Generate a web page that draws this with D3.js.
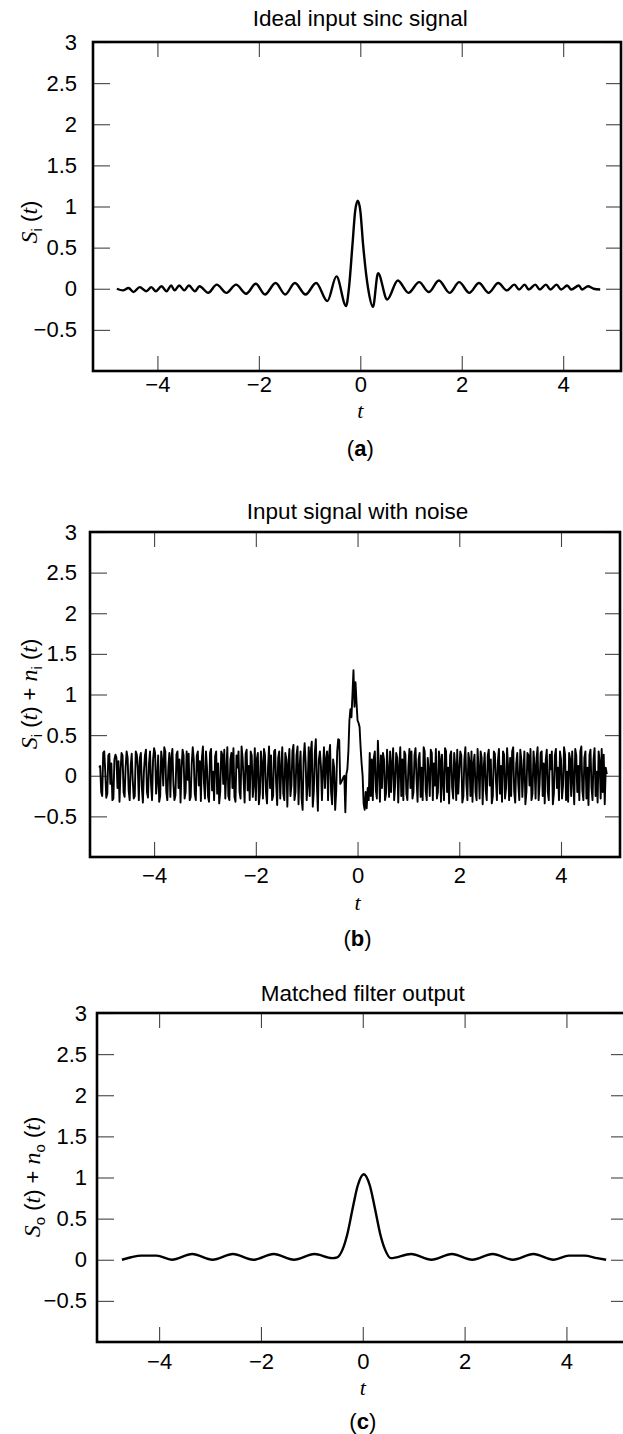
<!DOCTYPE html>
<html><head><meta charset="utf-8">
<script src="https://cdn.jsdelivr.net/npm/d3@7"></script>
<style>body{margin:0;background:#fff} svg{display:block}</style>
</head><body>
<svg id="chart" width="623" height="1434"></svg>
<script>
// ---------- data ----------
const xTicks = [-4, -2, 0, 2, 4];
const xTickLabels = ["−4", "−2", "0", "2", "4"];
const yTicks = [3, 2.5, 2, 1.5, 1, 0.5, 0, -0.5];
const yTickLabels = ["3", "2.5", "2", "1.5", "1", "0.5", "0", "−0.5"];
const titles = ["Ideal input sinc signal", "Input signal with noise", "Matched filter output"];
const panelLetters = ["a", "b", "c"];
const xDomains = [[-5.27, 5.14], [-5.26, 5.16], [-5.22, 5.17]];
const yDomain = [-1, 3];

// (a) ideal sinc signal
const tA = [-4.80,-4.68,-4.57,-4.47,-4.35,-4.22,-4.12,-4.03,-3.92,-3.82,
  -3.73,-3.66,-3.57,-3.47,-3.38,-3.26,-3.17,-3.00,-2.83,-2.64,
  -2.45,-2.25,-2.06,-1.88,-1.67,-1.48,-1.29,-1.08,-0.87,-0.65,
  -0.47,-0.28,-0.225,-0.155,-0.10,-0.05,0.00,0.056,0.155,0.25,
  0.35,0.53,0.74,0.95,1.16,1.35,1.55,1.76,1.95,2.15,
  2.34,2.53,2.72,2.89,3.04,3.13,3.24,3.32,3.45,3.54,
  3.66,3.75,3.87,3.96,4.08,4.16,4.31,4.37,4.49,4.60,
  4.73];
const sA = [0,-0.02,0.01,-0.04,0.02,-0.03,0.02,-0.03,0.03,-0.03,
  0.04,-0.02,0.04,-0.02,0.04,-0.03,0.03,-0.05,0.05,-0.05,
  0.05,-0.06,0.06,-0.07,0.07,-0.07,0.07,-0.07,0.07,-0.15,
  0.15,-0.21,0,0.53,0.95,1.07,0.95,0.53,0,-0.22,
  0.19,-0.13,0.10,-0.05,0.08,-0.04,0.10,-0.05,0.08,-0.05,
  0.07,-0.05,0.07,-0.02,0.05,-0.01,0.05,-0.01,0.05,-0.01,
  0.05,-0.01,0.05,-0.01,0.04,-0.01,0.04,-0.01,0.03,0,
  -0.01];

// (b) noisy input, sampled every 0.02 starting at t = -5.08
const tStartB = -5.08, tStepB = 0.02;
const sB = [
  0.1,0.12,-0.2,-0.25,0.28,0.3,0.05,-0.27,-0.22,0.25,0.27,-0.1,0.15,-0.3,-0.28,0.2,
  0.26,0.22,-0.15,0.18,-0.32,0.05,0.28,0.25,-0.2,-0.26,0.1,0.3,0.22,-0.18,-0.3,0.12,
  0.27,-0.05,-0.28,-0.25,0.3,0.26,0.1,-0.3,0.22,0.28,-0.15,-0.33,0.05,0.25,0.32,-0.2,
  -0.27,0.15,0.3,-0.1,-0.3,0.2,0.34,0.28,-0.22,-0.05,0.25,-0.32,-0.25,0.3,0.18,-0.12,
  0.35,0.3,-0.2,-0.3,0.1,0.28,-0.26,0.22,0.33,-0.1,-0.3,-0.24,0.26,0.3,-0.15,0.2,
  -0.33,0.08,0.32,0.25,-0.28,-0.2,0.3,-0.05,0.27,-0.3,-0.26,0.15,0.35,0.2,-0.22,-0.3,
  0.25,0.3,-0.12,0.18,-0.31,0.22,0.36,-0.08,-0.28,0.3,0.1,-0.25,-0.32,0.28,0.33,-0.18,
  0.05,-0.3,0.24,0.3,-0.22,0.15,-0.34,-0.2,0.3,0.26,-0.1,0.32,-0.28,0.06,0.35,-0.25,
  -0.3,0.2,0.28,-0.15,0.34,-0.26,-0.32,0.25,0.1,0.3,-0.2,-0.28,0.36,0.22,-0.05,-0.33,
  0.27,0.32,-0.18,0.12,-0.3,0.3,0.25,-0.26,-0.1,0.34,-0.3,0.2,0.28,-0.35,-0.22,0.3,
  0.15,-0.28,0.33,0.26,-0.2,-0.34,0.1,0.36,-0.15,0.25,-0.3,-0.25,0.3,0.32,-0.1,-0.36,
  0.22,0.3,-0.28,0.08,0.35,-0.22,-0.3,0.28,0.2,-0.38,0.14,0.33,-0.25,-0.12,0.3,0.38,
  -0.3,-0.2,0.25,0.36,-0.35,0.1,0.3,-0.28,-0.42,0.22,0.4,0.15,-0.3,-0.1,0.35,-0.25,
  0.3,0.42,-0.38,-0.2,0.28,0.45,-0.1,-0.43,0.2,0.3,0.12,-0.3,0.05,0.35,-0.15,0.2,
  // pulse region
  0.3,-0.3,0.25,0.38,-0.2,-0.35,0.2,0.1,-0.42,-0.2,0.3,0.45,0.44,-0.1,-0.08,
  -0.05,-0.02,0.0,-0.45,0.02,0.08,0.3,0.68,0.82,0.72,1.0,1.3,0.85,1.15,0.9,
  0.68,0.65,0.6,0.35,0.15,0.0,-0.35,-0.42,-0.2,-0.4,-0.15,-0.3,0.28,-0.25,0.2,
  // noise after pulse
  -0.3,0.22,0.3,-0.18,-0.28,0.43,0.1,-0.32,0.25,-0.15,0.28,0.2,-0.3,-0.22,0.32,0.05,
  -0.26,0.3,-0.2,0.15,0.34,-0.3,-0.1,0.28,0.22,-0.33,0.1,0.35,-0.25,0.2,-0.3,0.3,
  0.26,-0.22,-0.3,0.12,0.33,-0.15,0.3,-0.28,-0.2,0.25,0.34,-0.05,-0.32,0.2,0.28,-0.26,
  0.1,-0.3,0.35,0.3,-0.18,-0.3,0.22,0.05,-0.25,0.32,0.28,-0.3,0.15,-0.12,0.33,-0.28,
  -0.2,0.3,0.2,-0.32,0.26,-0.08,-0.3,0.34,0.3,-0.2,0.1,-0.34,0.25,0.3,-0.15,-0.28,
  0.28,0.12,-0.3,0.32,-0.22,0.05,0.3,0.25,-0.33,-0.26,0.2,0.35,-0.1,-0.3,0.28,0.18,
  -0.25,0.3,-0.32,0.15,0.26,-0.2,-0.3,0.33,0.08,-0.28,0.3,0.22,-0.35,0.1,0.28,-0.18,
  -0.3,0.25,0.32,-0.12,0.2,-0.34,-0.25,0.3,0.27,-0.05,-0.3,0.18,0.33,-0.22,0.12,-0.32,
  0.3,0.26,-0.28,-0.15,0.34,0.1,-0.3,0.22,-0.25,0.3,0.35,-0.2,-0.33,0.15,0.28,-0.1,
  -0.3,0.32,0.2,-0.26,0.05,0.3,-0.35,-0.2,0.28,0.25,-0.12,0.33,-0.3,-0.22,0.3,0.12,
  -0.28,0.22,0.35,-0.3,-0.1,0.28,0.3,-0.25,0.15,-0.34,0.2,0.32,-0.2,-0.3,0.26,0.08,
  0.3,-0.35,-0.22,0.25,0.33,-0.15,0.1,-0.3,0.3,0.2,-0.28,-0.12,0.35,0.26,-0.3,0.05,
  -0.32,0.28,0.2,-0.25,0.3,-0.05,-0.35,0.33,0.25,-0.2,0.12,-0.3,0.3,0.36,-0.18,-0.3,
  0.22,0.3,-0.28,0.1,-0.36,0.26,0.32,-0.15,-0.3,0.2,0.34,-0.25,0.05,-0.33,0.3,0.18,
  -0.28,0.33,-0.2,0.26,-0.35,0.1,0.02];

// (c) matched filter output
const tC = [-4.73,-4.55,-4.35,-4.05,-3.75,-3.35,-2.95,-2.55,-2.15,-1.75,-1.35,-0.95,-0.6,
  -0.5,-0.4,-0.3,-0.2,-0.1,0.02,0.14,0.24,0.34,0.44,0.55,
  0.95,1.35,1.75,2.15,2.55,2.95,3.35,3.75,4.05,4.35,4.6,4.78];
const sC = [0.0,0.03,0.05,0.05,0.0,0.07,0.0,0.07,0.0,0.07,0.0,0.07,0.02,
  0.03,0.12,0.32,0.62,0.9,1.04,0.9,0.62,0.32,0.12,0.02,
  0.07,0.0,0.07,0.0,0.07,0.0,0.07,0.0,0.05,0.05,0.02,0.0];

// ---------- layout ----------
const panels = [
  {L:93, R:621, T:42,  B:371,  titleY:26,   ylabX:37, ylabY:222,  xPad:5,  yPad:16, tY:418,  capY:456,  sw:2.4,
   ylabel:[["S","v"],["i","sub"],[" (","s"],["t","v"],[")","s"]]},
  {L:90, R:620, T:532, B:857,  titleY:519,  ylabX:37, ylabY:694,  xPad:10, yPad:13, tY:910,  capY:946,  sw:1.9,
   ylabel:[["S","v"],["i","sub"],[" (","s"],["t","v"],[") + ","s"],["n","v"],["i","sub"],[" (","s"],["t","v"],[")","s"]]},
  {L:97, R:626, T:1013,B:1342, titleY:1001, ylabX:40, ylabY:1177, xPad:11, yPad:10, tY:1395, capY:1429, sw:2.4,
   ylabel:[["S","v"],["o","sub"],[" (","s"],["t","v"],[") + ","s"],["n","v"],["o","sub"],[" (","s"],["t","v"],[")","s"]]}
];
const series = [
  tA.map((t,i)=>[t, sA[i]]),
  sB.map((v,i)=>[tStartB + i*tStepB, v]),
  tC.map((t,i)=>[t, sC[i]])
];
const curves = [d3.curveMonotoneX, d3.curveLinear, d3.curveMonotoneX];

const SANS = "'Liberation Sans', Arial, Helvetica, sans-serif";
const SERIF = "'Liberation Serif', 'Times New Roman', serif";
const FS = 22, FT = 22.5;
const svg = d3.select("#chart");

panels.forEach((p, k) => {
  const x = d3.scaleLinear().domain(xDomains[k]).range([p.L, p.R]);
  const y = d3.scaleLinear().domain(yDomain).range([p.B, p.T]);
  const g = svg.append("g");

  const styleAxis = sel => {
    sel.select(".domain").remove();
    sel.selectAll(".tick line").attr("stroke", "#444").attr("stroke-width", 1.1);
    sel.selectAll("text").attr("font-family", SANS).attr("font-size", FS).attr("fill", "#000");
  };
  g.append("g").attr("transform", `translate(0,${p.B})`)
    .call(d3.axisBottom(x).tickValues(xTicks).tickSize(-15).tickPadding(p.xPad)
      .tickFormat((d,i)=>xTickLabels[i]))
    .call(styleAxis);
  g.append("g").attr("transform", `translate(0,${p.T})`)
    .call(d3.axisTop(x).tickValues(xTicks).tickSize(-15).tickFormat(""))
    .call(styleAxis);
  g.append("g").attr("transform", `translate(${p.L},0)`)
    .call(d3.axisLeft(y).tickValues(yTicks).tickSize(-17).tickPadding(p.yPad)
      .tickFormat((d,i)=>yTickLabels[i]))
    .call(styleAxis);
  g.append("g").attr("transform", `translate(${p.R},0)`)
    .call(d3.axisRight(y).tickValues(yTicks).tickSize(-15).tickFormat(""))
    .call(styleAxis);

  g.append("rect").attr("x", p.L).attr("y", p.T)
    .attr("width", p.R - p.L).attr("height", p.B - p.T)
    .attr("fill", "none").attr("stroke", "#000").attr("stroke-width", 2.6);

  const line = d3.line().x(d=>x(d[0])).y(d=>y(d[1])).curve(curves[k]);
  g.append("path").datum(series[k]).attr("d", line)
    .attr("fill", "none").attr("stroke", "#000").attr("stroke-width", p.sw)
    .attr("stroke-linejoin", "round");

  g.append("text").attr("x", x(0)).attr("y", p.titleY).attr("text-anchor", "middle")
    .attr("font-family", SANS).attr("font-size", FT).text(titles[k]);

  g.append("text").attr("x", x(0)).attr("y", p.tY).attr("text-anchor", "middle")
    .attr("font-family", SERIF).attr("font-style", "italic").attr("font-size", FS).text("t");

  const cap = g.append("text").attr("x", x(0)).attr("y", p.capY).attr("text-anchor", "middle")
    .attr("font-family", SANS).attr("font-size", FS);
  cap.append("tspan").text("(");
  cap.append("tspan").attr("font-weight", "bold").text(panelLetters[k]);
  cap.append("tspan").text(")");

  const yl = g.append("text").attr("transform", `translate(${p.ylabX},${p.ylabY}) rotate(-90)`)
    .attr("text-anchor", "middle").attr("font-size", FS);
  let shifted = false;
  p.ylabel.forEach(([txt, kind]) => {
    const ts = yl.append("tspan").text(txt);
    if (kind === "v") ts.attr("font-family", SERIF).attr("font-style", "italic").attr("font-size", FS + 2);
    else ts.attr("font-family", SANS);
    if (kind === "sub") { ts.attr("font-size", 15).attr("dy", 5); shifted = true; }
    else if (shifted) { ts.attr("dy", -5); shifted = false; }
  });
});
</script>
</body></html>
